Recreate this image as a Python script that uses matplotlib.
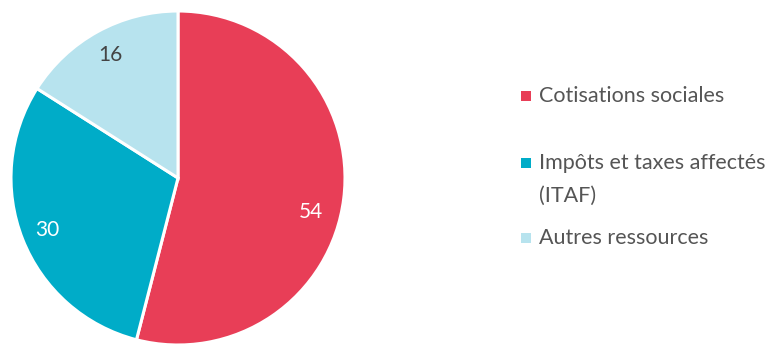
import numpy as np
import matplotlib
matplotlib.use("Agg")
import matplotlib.pyplot as plt

categories = ["Cotisations sociales", "Impôts et taxes affectés\n(ITAF)", "Autres ressources"]
values = [54, 30, 16]
colors = ["#E83E57", "#00ACC8", "#B7E3EE"]
label_colors = ["white", "white", "#444444"]

plt.rcParams.update({"font.family": ["Lato", "DejaVu Sans"]})

W, H = 773, 344
fig = plt.figure(figsize=(W / 100, H / 100), dpi=100)

cx, cy, r = 178, 178, 167
ax = fig.add_axes([(cx - r) / W, (H - cy - r) / H, 2 * r / W, 2 * r / H])
wedges, texts, autotexts = ax.pie(
    values, colors=colors, startangle=90, counterclock=False,
    autopct=lambda p: f"{p:.0f}", pctdistance=0.84,
    wedgeprops=dict(edgecolor="white", linewidth=2.2),
    textprops=dict(fontsize=15))
for t, c in zip(autotexts, label_colors):
    t.set_color(c)
# the "54" label sits a bit lower than the wedge middle
ang = np.deg2rad(-14.5)
autotexts[0].set_position((0.82 * np.cos(ang), 0.82 * np.sin(ang)))
ax.set_xlim(-1, 1)
ax.set_ylim(-1, 1)
ax.set_aspect("equal")

# legend, drawn by hand
lax = fig.add_axes([0, 0, 1, 1])
lax.set_xlim(0, W)
lax.set_ylim(H, 0)
lax.axis("off")
ys = [96, 163, 238]
txt = dict(fontsize=15.5, color="#555555", va="center")
for lab, c, y in zip(categories, colors, ys):
    lax.scatter([526], [y], marker="s", s=42, color=c, linewidths=0)
    for k, line in enumerate(lab.split("\n")):
        lax.text(539, y + 33 * k, line, **txt)

fig.savefig("out.png", dpi=100)
